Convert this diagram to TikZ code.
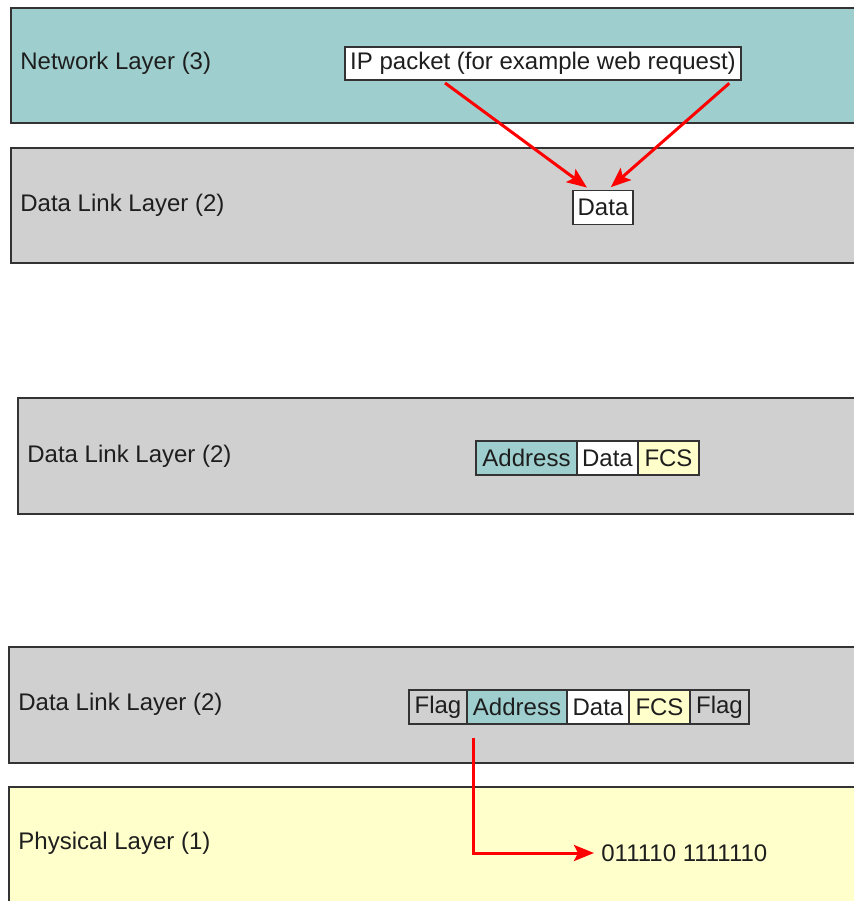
\documentclass[tikz,border=0pt]{standalone}
\usepackage{fontspec}
\setmainfont{Liberation Sans}
\usetikzlibrary{arrows.meta, positioning, calc}
\definecolor{netcol}{HTML}{9ECFCE}
\definecolor{linkcol}{HTML}{D0D0D0}
\definecolor{physcol}{HTML}{FFFFCC}
\definecolor{edgecol}{HTML}{333333}
\definecolor{txtcol}{HTML}{1E1E1E}
\begin{document}
\begin{tikzpicture}[x=0.5pt, y=-0.5pt, >={Stealth[length=10pt, width=8pt, inset=2pt]},
    layer/.style={draw=edgecol, line width=0.8pt, anchor=north west, minimum width=431pt, inner sep=0pt},
    layername/.style={anchor=west, inner sep=0pt, text=txtcol, font=\fontsize{12}{14}\selectfont},
    field/.style={draw=edgecol, line width=0.8pt, minimum height=17pt, inner sep=1pt, outer sep=0pt, text=txtcol, font=\fontsize{12}{14}\selectfont},
    redarrow/.style={->, draw=red, line width=1.5pt}]
    \fill[white] (0,0) rectangle (854,901);
    \node[layer, fill=netcol, minimum height=57.5pt] (netlayer) at (10,7) {};
    \node[layer, fill=linkcol, minimum height=57.5pt] (linkA) at (10,147) {};
    \node[layer, fill=linkcol, minimum height=58pt] (linkB) at (17,397) {};
    \node[layer, fill=linkcol, minimum height=58pt] (linkC) at (8,646) {};
    \node[layer, fill=physcol, minimum height=62pt] (phys) at (8,786) {};

    \node[layername] (netname) at (20,63) {Network Layer (3)};
    \node[layername] (linkAname) at (20,205) {Data Link Layer (2)};
    \node[layername] (linkBname) at (27,456) {Data Link Layer (2)};
    \node[layername] (linkCname) at (18,704) {Data Link Layer (2)};
    \node[layername] (physname) at (18,843) {Physical Layer (1)};

    \node[field, fill=white, minimum width=198pt, minimum height=16.5pt] (ip) at (543,63.5) {IP packet (for example web request)};
    \node[field, fill=white, minimum width=30pt] (dataA) at (603,207.5) {Data};

    \node[field, fill=netcol, minimum width=50.5pt, anchor=west] (addrB) at (476,458) {Address};
    \node[field, fill=white, minimum width=30.5pt] (dataB) [right=0pt of addrB] {Data};
    \node[field, fill=physcol, minimum width=30.5pt] (fcsB) [right=0pt of dataB] {FCS};

    \node[field, fill=linkcol, minimum width=29pt, anchor=west] (flagC) at (409,707) {Flag};
    \node[field, fill=netcol, minimum width=50pt] (addrC) [right=0pt of flagC] {Address};
    \node[field, fill=white, minimum width=31pt] (dataC) [right=0pt of addrC] {Data};
    \node[field, fill=physcol, minimum width=30.5pt] (fcsC) [right=0pt of dataC] {FCS};
    \node[field, fill=linkcol, minimum width=29.5pt] (flagD) [right=0pt of fcsC] {Flag};

    \node[layername] (bits) at (601,853) {011110 1111110};

    \draw[redarrow, shorten <=2.5pt, shorten >=2.5pt] ([xshift=48pt]ip.south west) -- ([xshift=9pt]dataA.north west);
    \draw[redarrow, shorten <=2.5pt, shorten >=2.5pt] ([xshift=194pt]ip.south west) -- ([xshift=17pt]dataA.north west);
    \draw[redarrow, shorten <=7pt, shorten >=3.5pt] ([xshift=3pt]addrC.south west) |- (bits.west);

    \pgfresetboundingbox
    \path[use as bounding box] (0,0) rectangle (854,901);
\end{tikzpicture}
\end{document}
